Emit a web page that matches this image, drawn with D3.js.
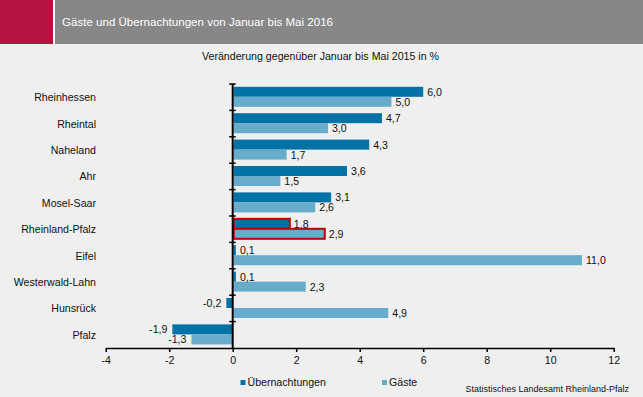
<!DOCTYPE html>
<html>
<head>
<meta charset="utf-8">
<script src="https://cdn.jsdelivr.net/npm/d3@7"></script>
<style>
  body { margin: 0; background: #eeefee; }
  svg { display: block; font-family: "Liberation Sans", Arial, sans-serif; }
</style>
</head>
<body>
<svg id="chart" width="643" height="397"></svg>
<script>
var regions = ['Rheinhessen', 'Rheintal', 'Naheland', 'Ahr', 'Mosel-Saar', 'Rheinland-Pfalz', 'Eifel', 'Westerwald-Lahn', 'Hunsrück', 'Pfalz'];
var uebernachtungen = [6.0, 4.7, 4.3, 3.6, 3.1, 1.8, 0.1, 0.1, -0.2, -1.9];
var gaeste = [5.0, 3.0, 1.7, 1.5, 2.6, 2.9, 11.0, 2.3, 4.9, -1.3];
var xTicks = [-4, -2, 0, 2, 4, 6, 8, 10, 12];
var seriesNames = ['Übernachtungen', 'Gäste'];

var colors = ['#0072a5', '#67acca'];
var fmt = v => v.toFixed(1).replace('.', ',');

var svg = d3.select('#chart');
svg.append('rect').attr('width', 643).attr('height', 397).attr('fill', '#eeefee');

// header
svg.append('rect').attr('x', 0).attr('y', 0).attr('width', 53).attr('height', 44).attr('fill', '#b5133f');
svg.append('rect').attr('x', 53).attr('y', 0).attr('width', 2).attr('height', 44).attr('fill', '#ffffff');
svg.append('rect').attr('x', 55).attr('y', 0).attr('width', 588).attr('height', 44).attr('fill', '#878787');
svg.append('text').attr('x', 62).attr('y', 26).attr('fill', '#ffffff').style('font-size', '11.5px')
    .attr('textLength', 271).attr('lengthAdjust', 'spacingAndGlyphs')
    .text('Gäste und Übernachtungen von Januar bis Mai 2016');

svg.append('text').attr('x', 202).attr('y', 60).attr('fill', '#111')
    .attr('textLength', 237).attr('lengthAdjust', 'spacingAndGlyphs')
    .style('font-size', '10.8px').text('Veränderung gegenüber Januar bis Mai 2015 in %');

var x = d3.scaleLinear().domain([-4, 12]).range([105.7, 613.7]);
var y = d3.scaleBand().domain(regions).range([84, 348]);
var inner = d3.scaleBand().domain([0, 1]).range([0, 20]);
var off = (y.bandwidth() - 20) / 2 - 0.4;

var data = [];
regions.forEach((r, i) => {
    data.push({ region: r, s: 0, v: uebernachtungen[i] });
    data.push({ region: r, s: 1, v: gaeste[i] });
});

var g = svg.append('g');
g.selectAll('rect.bar').data(data).join('rect')
    .attr('class', 'bar')
    .attr('x', d => d.v >= 0 ? x(0) + 1 : x(d.v))
    .attr('y', d => y(d.region) + off + inner(d.s))
    .attr('width', d => Math.abs(x(d.v) - x(0)) - (d.v >= 0 ? 1 : 0))
    .attr('height', inner.bandwidth())
    .attr('fill', d => colors[d.s])
    .attr('stroke', d => d.region === 'Rheinland-Pfalz' ? '#c00000' : 'none')
    .attr('stroke-width', 2);

g.selectAll('text.val').data(data).join('text')
    .attr('class', 'val')
    .attr('x', d => d.v >= 0 ? x(d.v) + 4 : x(d.v) - 5)
    .attr('y', d => y(d.region) + off + inner(d.s) + 9)
    .attr('text-anchor', d => d.v >= 0 ? 'start' : 'end')
    .attr('fill', '#111')
    .style('font-size', '10.6px')
    .text(d => fmt(d.v));

// y axis
svg.append('line').attr('x1', x(0)).attr('x2', x(0)).attr('y1', 84).attr('y2', 348)
    .attr('stroke', '#000').attr('stroke-width', 2);
var bounds = regions.map(r => y(r));
svg.selectAll('line.ytick').data(bounds).join('line').attr('class', 'ytick')
    .attr('x1', x(0) - 3.5).attr('x2', x(0) + 3).attr('y1', d => d).attr('y2', d => d)
    .attr('stroke', '#000').attr('stroke-width', 1.5);
svg.selectAll('text.cat').data(regions).join('text').attr('class', 'cat')
    .attr('x', 96).attr('y', d => y(d) + y.bandwidth() / 2 + 4)
    .attr('text-anchor', 'end').attr('fill', '#111').style('font-size', '10.6px')
    .text(d => d);

// x axis
var xAxis = svg.append('g').attr('transform', 'translate(0,348)')
    .call(d3.axisBottom(x).tickValues(xTicks).tickSize(4).tickSizeOuter(0).tickFormat(d => d));
xAxis.select('.domain').attr('stroke', '#000').attr('stroke-width', 1.5);
xAxis.selectAll('.tick line').attr('stroke', '#000').attr('stroke-width', 1.5);
xAxis.selectAll('.tick text').attr('fill', '#111').attr('y', 8)
    .style('font-size', '10.6px').style('font-family', '"Liberation Sans", Arial, sans-serif');

// legend
var legX = [240.5, 382];
seriesNames.forEach((n, i) => {
    svg.append('rect').attr('x', legX[i]).attr('y', 380).attr('width', 5).attr('height', 5).attr('fill', colors[i]);
    svg.append('text').attr('x', legX[i] + 7).attr('y', 386).attr('fill', '#111').style('font-size', '10.6px').text(n);
});

svg.append('text').attr('x', 629).attr('y', 392).attr('text-anchor', 'end').attr('fill', '#111')
    .style('font-size', '9px').text('Statistisches Landesamt Rheinland-Pfalz');
</script>
</body>
</html>
